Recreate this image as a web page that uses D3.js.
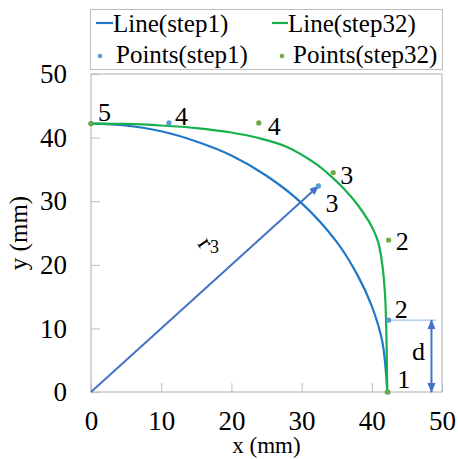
<!DOCTYPE html>
<html>
<head>
<meta charset="utf-8">
<script src="https://cdn.jsdelivr.net/npm/d3@7"></script>
<style>
  html, body { margin: 0; padding: 0; background: #fff; }
  svg { display: block; }
  svg text { fill: #000; }
</style>
</head>
<body>
<svg id="chart" width="458" height="459"></svg>
<script>
// Profile curves (x, y in mm)
const lineStep1X = [0, 5, 10, 15, 20, 25, 30, 35, 38, 40, 41.5, 42.2];
const lineStep1Y = [42.2, 41.9, 41.0, 39.4, 37.2, 34.0, 29.7, 23.6, 18.3, 13.5, 7.9, 0];
const lineStep32X = [0, 5, 10, 15, 20, 24, 28, 32, 34, 36, 38, 40, 40.9, 41.5, 41.9, 42.1, 42.2];
const lineStep32Y = [42.2, 42.15, 41.9, 41.5, 40.8, 39.9, 38.5, 35.9, 34.1, 32.0, 29.4, 26.0, 23.6, 20.0, 15.0, 8.0, 0];

// Control points, numbered 1..5
const pointNames = ["1", "2", "3", "4", "5"];
const pointsStep1X = [42.2, 42.4, 32.4, 11.1, 0];
const pointsStep1Y = [0, 11.3, 32.4, 42.3, 42.2];
const pointsStep32X = [42.3, 42.4, 34.5, 23.9, 0];
const pointsStep32Y = [0, 23.9, 34.5, 42.3, 42.2];

// Axis ticks
const xTicks = [0, 10, 20, 30, 40, 50];
const yTicks = [0, 10, 20, 30, 40, 50];

// Legend entries
const legendNames = ["Line(step1)", "Line(step32)", "Points(step1)", "Points(step32)"];

const font = '"Liberation Serif", "Times New Roman", Times, serif';
const colors = {
  line1: "#1f78c9",
  line32: "#16b04c",
  pt1: "#5b9bd5",
  pt32: "#6aaa45",
  arrow: "#4472c4",
  frame: "#bdbdbd"
};

const svg = d3.select("#chart");
const margin = { left: 91, right: 16, top: 74, bottom: 67 };
const W = 458, H = 459;
const x = d3.scaleLinear().domain([0, 50]).range([margin.left, W - margin.right]);
const y = d3.scaleLinear().domain([0, 50]).range([H - margin.bottom, margin.top]);

// Axes with inward ticks
const gx = svg.append("g")
  .attr("transform", `translate(0,${y(0)})`)
  .call(d3.axisBottom(x).tickValues(xTicks).tickSize(-9).tickPadding(19));
const gy = svg.append("g")
  .attr("transform", `translate(${x(0)},0)`)
  .call(d3.axisLeft(y).tickValues(yTicks).tickSize(-9).tickPadding(24));
[gx, gy].forEach(g => {
  g.attr("font-family", font).attr("font-size", 27);
  g.select(".domain").remove();
  g.selectAll(".tick line").attr("stroke", colors.frame).attr("stroke-width", 1);
});

// Plot frame
svg.append("rect")
  .attr("x", x(0)).attr("y", y(50))
  .attr("width", x(50) - x(0)).attr("height", y(0) - y(50))
  .attr("fill", "none").attr("stroke", colors.frame).attr("stroke-width", 1.2);

// Axis titles
svg.append("text").attr("x", (x(0) + x(50)) / 2).attr("y", 453)
  .attr("text-anchor", "middle").attr("font-family", font).attr("font-size", 23).text("x (mm)");
svg.append("text").attr("transform", `translate(27,${(y(0) + y(50)) / 2}) rotate(-90)`)
  .attr("text-anchor", "middle").attr("font-family", font).attr("font-size", 25).text("y (mm)");

// Arrow markers
const defs = svg.append("defs");
defs.append("marker").attr("id", "ah").attr("viewBox", "0 0 10 10")
  .attr("refX", 9).attr("refY", 5).attr("markerWidth", 5).attr("markerHeight", 5)
  .attr("orient", "auto-start-reverse").attr("markerUnits", "strokeWidth")
  .append("path").attr("d", "M0,1 L10,5 L0,9 Z").attr("fill", colors.arrow);

// Radius r3 from the origin to point 3 of step1
svg.append("line")
  .attr("x1", x(0)).attr("y1", y(0))
  .attr("x2", x(pointsStep1X[2])).attr("y2", y(pointsStep1Y[2]))
  .attr("stroke", colors.arrow).attr("stroke-width", 2)
  .attr("marker-end", "url(#ah)");

// Offset d of point 2 (step1)
const dimX = 48.5;
svg.append("line")
  .attr("x1", x(pointsStep1X[1])).attr("y1", y(pointsStep1Y[1]))
  .attr("x2", x(49.2)).attr("y2", y(pointsStep1Y[1]))
  .attr("stroke", "#8db3e2").attr("stroke-width", 1);
svg.append("line")
  .attr("x1", x(dimX)).attr("y1", y(pointsStep1Y[1]))
  .attr("x2", x(dimX)).attr("y2", y(0))
  .attr("stroke", colors.arrow).attr("stroke-width", 2)
  .attr("marker-start", "url(#ah)").attr("marker-end", "url(#ah)");

// Curves
const line = d3.line().x(d => x(d[0])).y(d => y(d[1])).curve(d3.curveCatmullRom.alpha(0.5));
const step1 = lineStep1X.map((v, i) => [v, lineStep1Y[i]]);
const step32 = lineStep32X.map((v, i) => [v, lineStep32Y[i]]);
svg.append("path").datum(step1).attr("d", line)
  .attr("fill", "none").attr("stroke", colors.line1).attr("stroke-width", 2.2);
svg.append("path").datum(step32).attr("d", line)
  .attr("fill", "none").attr("stroke", colors.line32).attr("stroke-width", 2.2);

// Control points
const p1 = pointsStep1X.map((v, i) => [v, pointsStep1Y[i]]);
const p32 = pointsStep32X.map((v, i) => [v, pointsStep32Y[i]]);
svg.append("g").selectAll("circle").data(p1).join("circle")
  .attr("cx", d => x(d[0])).attr("cy", d => y(d[1])).attr("r", 2.6).attr("fill", colors.pt1);
svg.append("g").selectAll("circle").data(p32).join("circle")
  .attr("cx", d => x(d[0])).attr("cy", d => y(d[1])).attr("r", 2.6).attr("fill", colors.pt32);

// Point numbers: [series, index, dx, dy]
const labelPlacement = [
  [p1, 0, 10, -4], [p1, 1, 6, -2], [p1, 2, 7, 26], [p1, 3, 6, 2], [p1, 4, 7, -3],
  [p32, 1, 7, 10], [p32, 2, 7, 11], [p32, 3, 9, 12]
];
svg.append("g").selectAll("text").data(labelPlacement).join("text")
  .attr("x", d => x(d[0][d[1]][0]) + d[2])
  .attr("y", d => y(d[0][d[1]][1]) + d[3])
  .attr("font-family", font).attr("font-size", 26)
  .text(d => pointNames[d[1]]);

// r3 label
svg.append("text").attr("transform", "translate(197,244) rotate(55)")
  .attr("font-family", font).attr("font-size", 24).text("r");
svg.append("text").attr("x", 210).attr("y", 253)
  .attr("font-family", font).attr("font-size", 18).text("3");

// d label
svg.append("text").attr("x", 412).attr("y", 360)
  .attr("font-family", font).attr("font-size", 26).text("d");

// Legend
const lg = svg.append("g");
lg.append("rect").attr("x", 90.5).attr("y", 9.5).attr("width", 352).attr("height", 60)
  .attr("fill", "#fff").attr("stroke", colors.frame).attr("stroke-width", 1);
const legendItems = [
  { name: legendNames[0], kind: "line", color: colors.line1, sx: 96, tx: 113, ty: 32 },
  { name: legendNames[1], kind: "line", color: colors.line32, sx: 272, tx: 288, ty: 32 },
  { name: legendNames[2], kind: "dot", color: colors.pt1, sx: 100, tx: 116, ty: 63 },
  { name: legendNames[3], kind: "dot", color: colors.pt32, sx: 282, tx: 293, ty: 63 }
];
legendItems.forEach(it => {
  if (it.kind === "line") {
    lg.append("line").attr("x1", it.sx).attr("x2", it.tx).attr("y1", it.ty - 9).attr("y2", it.ty - 9)
      .attr("stroke", it.color).attr("stroke-width", 2.2);
  } else {
    lg.append("circle").attr("cx", it.sx).attr("cy", it.ty - 7).attr("r", 2.2).attr("fill", it.color);
  }
  lg.append("text").attr("x", it.tx).attr("y", it.ty)
    .attr("font-family", font).attr("font-size", 25).text(it.name);
});
</script>
</body>
</html>
